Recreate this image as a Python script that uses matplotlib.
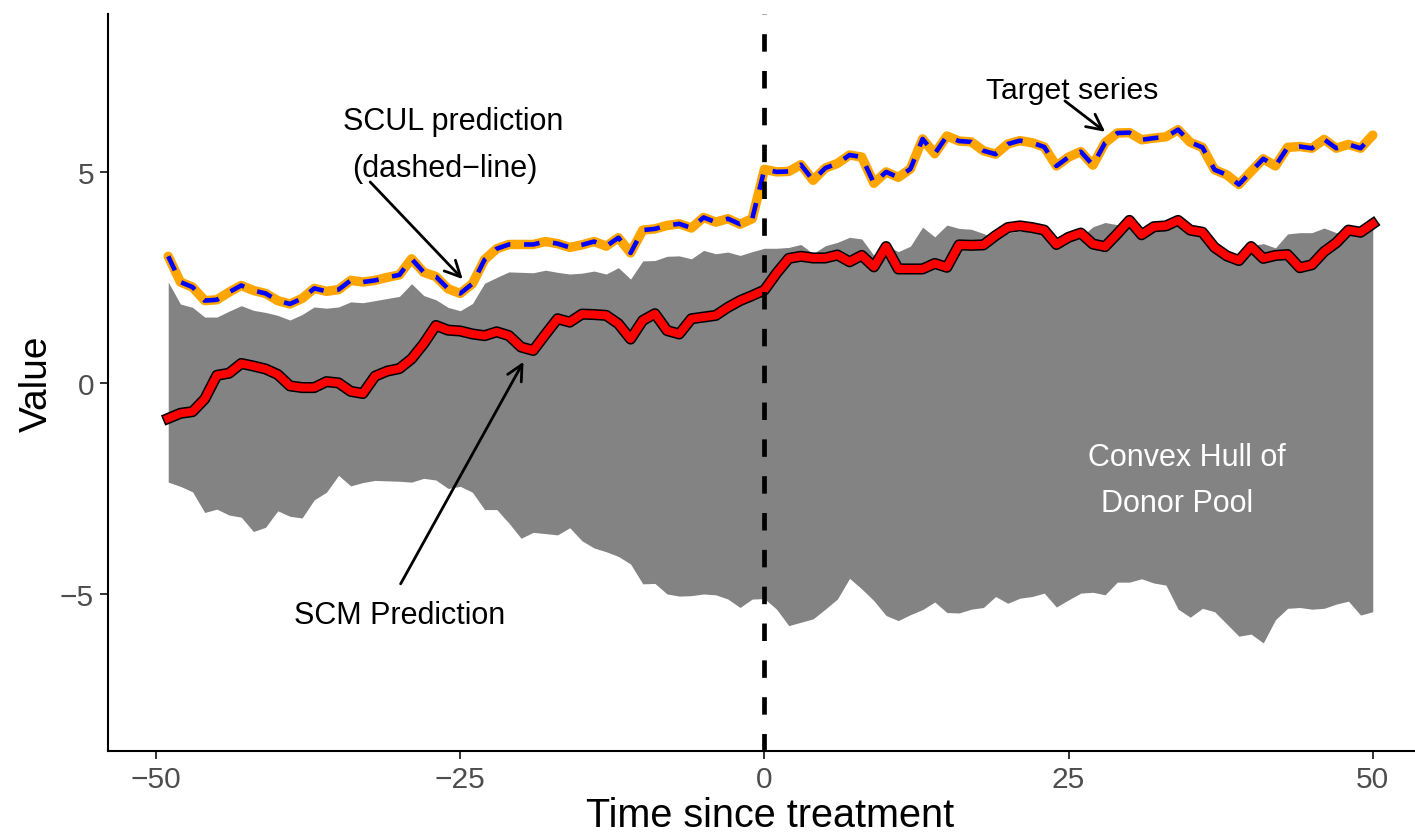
import matplotlib
matplotlib.use('Agg')
import matplotlib.pyplot as plt

plt.rcParams['font.family'] = ['Liberation Sans', 'DejaVu Sans']

# time since treatment
time = list(range(-49, 51))

# observed target series
target = [3.0, 2.39, 2.27, 1.95, 1.97, 2.15, 2.31, 2.19, 2.12, 1.95,
          1.87, 2.0, 2.24, 2.17, 2.21, 2.43, 2.39, 2.43, 2.5, 2.56,
          2.94, 2.62, 2.52, 2.23, 2.12, 2.35, 2.92, 3.18, 3.28, 3.28,
          3.28, 3.35, 3.3, 3.21, 3.27, 3.35, 3.24, 3.44, 3.08, 3.62,
          3.65, 3.73, 3.77, 3.67, 3.92, 3.81, 3.89, 3.76, 3.89,
          5.06, 5.0, 5.01, 5.17, 4.8, 5.09, 5.2, 5.4, 5.35, 4.73,
          5.0, 4.87, 5.07, 5.78, 5.43, 5.85, 5.73, 5.71, 5.5, 5.42,
          5.66, 5.74, 5.69, 5.59, 5.14, 5.35, 5.48, 5.16, 5.69, 5.92,
          5.93, 5.76, 5.8, 5.83, 6.0, 5.7, 5.58, 5.05, 4.93, 4.7,
          5.01, 5.31, 5.14, 5.58, 5.6, 5.56, 5.77, 5.56, 5.65, 5.56, 5.87]

# SCUL prediction sits right on top of the target
scul = list(target)

# SCM prediction (red)
scm = [-0.84, -0.72, -0.68, -0.38, 0.18, 0.23, 0.46, 0.4, 0.33, 0.2,
       -0.07, -0.11, -0.11, 0.03, 0.0, -0.2, -0.25, 0.16, 0.28, 0.34,
       0.57, 0.93, 1.36, 1.25, 1.23, 1.16, 1.12, 1.21, 1.12, 0.85,
       0.77, 1.15, 1.52, 1.44, 1.63, 1.62, 1.6, 1.4, 1.04, 1.48,
       1.64, 1.24, 1.16, 1.52, 1.56, 1.6, 1.79, 1.95, 2.07,
       2.2, 2.6, 2.95, 3.0, 2.96, 2.96, 3.03, 2.87, 3.02, 2.75,
       3.23, 2.7, 2.7, 2.7, 2.83, 2.74, 3.27, 3.26, 3.27, 3.49,
       3.68, 3.72, 3.68, 3.62, 3.28, 3.45, 3.55, 3.29, 3.23, 3.53,
       3.85, 3.51, 3.7, 3.72, 3.85, 3.62, 3.57, 3.21, 3.01, 2.9,
       3.23, 2.95, 3.02, 3.04, 2.73, 2.8, 3.11, 3.32, 3.62, 3.57, 3.77]

# convex hull of the donor pool
hull_upper = [2.39, 1.87, 1.79, 1.56, 1.56, 1.7, 1.83, 1.72, 1.67, 1.6,
              1.49, 1.62, 1.8, 1.77, 1.8, 1.92, 1.9, 1.95, 2.0, 2.05,
              2.35, 2.07, 1.97, 1.79, 1.71, 1.88, 2.36, 2.5, 2.63, 2.62,
              2.61, 2.67, 2.62, 2.58, 2.6, 2.65, 2.58, 2.73, 2.46, 2.89,
              2.9, 3.0, 3.01, 2.94, 3.14, 3.06, 3.1, 3.02, 3.11,
              3.19, 3.19, 3.21, 3.28, 3.06, 3.25, 3.33, 3.45, 3.41, 3.02,
              3.26, 3.11, 3.24, 3.69, 3.46, 3.74, 3.66, 3.64, 3.54, 3.4,
              3.55, 3.6, 3.58, 3.5, 3.2, 3.35, 3.45, 3.7, 3.8, 3.75,
              3.7, 3.45, 3.6, 3.62, 3.72, 3.55, 3.48, 3.15, 3.05, 3.05,
              3.25, 3.3, 3.2, 3.53, 3.56, 3.56, 3.67, 3.56, 3.62, 3.55, 3.73]
hull_lower = [-2.35, -2.45, -2.58, -3.07, -2.99, -3.13, -3.18, -3.52, -3.42, -3.03,
              -3.16, -3.2, -2.77, -2.59, -2.19, -2.44, -2.36, -2.31, -2.32, -2.33,
              -2.35, -2.26, -2.3, -2.5, -2.45, -2.59, -3.0, -3.0, -3.32, -3.68,
              -3.54, -3.57, -3.6, -3.43, -3.74, -3.91, -4.0, -4.11, -4.29, -4.76,
              -4.75, -5.0, -5.05, -5.04, -5.0, -5.02, -5.12, -5.32, -5.12,
              -5.11, -5.36, -5.75, -5.67, -5.59, -5.36, -5.12, -4.63, -4.88, -5.16,
              -5.51, -5.63, -5.49, -5.37, -5.19, -5.44, -5.45, -5.36, -5.32, -5.06,
              -5.22, -5.1, -5.06, -4.98, -5.31, -5.14, -4.98, -4.96, -5.02, -4.72,
              -4.72, -4.64, -4.74, -4.79, -5.36, -5.55, -5.34, -5.42, -5.71, -6.0,
              -5.95, -6.16, -5.61, -5.34, -5.32, -5.36, -5.34, -5.24, -5.17, -5.5, -5.42]

xticks = [-50, -25, 0, 25, 50]
yticks = [-5, 0, 5]


fig = plt.figure(figsize=(14.15, 8.37), dpi=100)
ax = fig.add_axes([108/1415, 1-752/837, (1433-108)/1415, (752-15)/837])

ax.fill_between(time, hull_lower, hull_upper, color='#838383', linewidth=0, zorder=1)

ax.plot(time, target, color='orange', linewidth=6.8, solid_joinstyle='round',
        solid_capstyle='round', zorder=3)
ax.plot(time, scul, color='blue', linewidth=3.3, linestyle=(0, (3.4, 3.0)),
        dash_joinstyle='round', zorder=4)

ax.plot(time, scm, color='black', linewidth=8.0, solid_joinstyle='round', zorder=3)
ax.plot(time, scm, color='red', linewidth=5.8, solid_joinstyle='round', zorder=4)

ax.axvline(0, color='black', linewidth=3.4, linestyle=(0, (3.7, 4.1)), zorder=5)

# annotations
ax.text(-25.6, 6.2, 'SCUL prediction', fontsize=22, ha='center', va='center')
ax.text(-26.3, 5.1, '(dashed\u2212line)', fontsize=22, ha='center', va='center')
ax.annotate('', xy=(-24.8, 2.46), xytext=(-32.4, 4.76),
            arrowprops=dict(arrowstyle='->', color='black', lw=2.0,
                            mutation_scale=28, shrinkA=0, shrinkB=0), zorder=6)

ax.text(25.3, 6.93, 'Target series', fontsize=21.7, ha='center', va='center')
ax.annotate('', xy=(28.0, 5.95), xytext=(24.7, 6.68),
            arrowprops=dict(arrowstyle='->', color='black', lw=2.0,
                            mutation_scale=28, shrinkA=0, shrinkB=0), zorder=6)

ax.text(-30.0, -5.5, 'SCM Prediction', fontsize=22, ha='center', va='center')
ax.annotate('', xy=(-19.8, 0.5), xytext=(-29.9, -4.76),
            arrowprops=dict(arrowstyle='->', color='black', lw=2.0,
                            mutation_scale=28, shrinkA=0, shrinkB=0), zorder=6)

ax.text(34.7, -1.75, 'Convex Hull of', fontsize=22, color='white', ha='center', va='center', zorder=6)
ax.text(33.9, -2.85, 'Donor Pool', fontsize=22, color='white', ha='center', va='center', zorder=6)

ax.set_xlim(-53.95, 54.95)
ax.set_ylim(-8.72, 8.74)
ax.set_xticks(xticks)
ax.set_yticks(yticks)

for side in ['top', 'right']:
    ax.spines[side].set_visible(False)
for side in ['left', 'bottom']:
    ax.spines[side].set_linewidth(1.5)
    ax.spines[side].set_color('black')
ax.tick_params(axis='both', length=6, width=1.4, color='#333333',
               labelsize=21.5, labelcolor='#4d4d4d', pad=4)

ax.set_xlabel('Time since treatment', fontsize=28.5, labelpad=2)
ax.set_ylabel('Value', fontsize=28, labelpad=4)

fig.savefig('out.png', dpi=100)
